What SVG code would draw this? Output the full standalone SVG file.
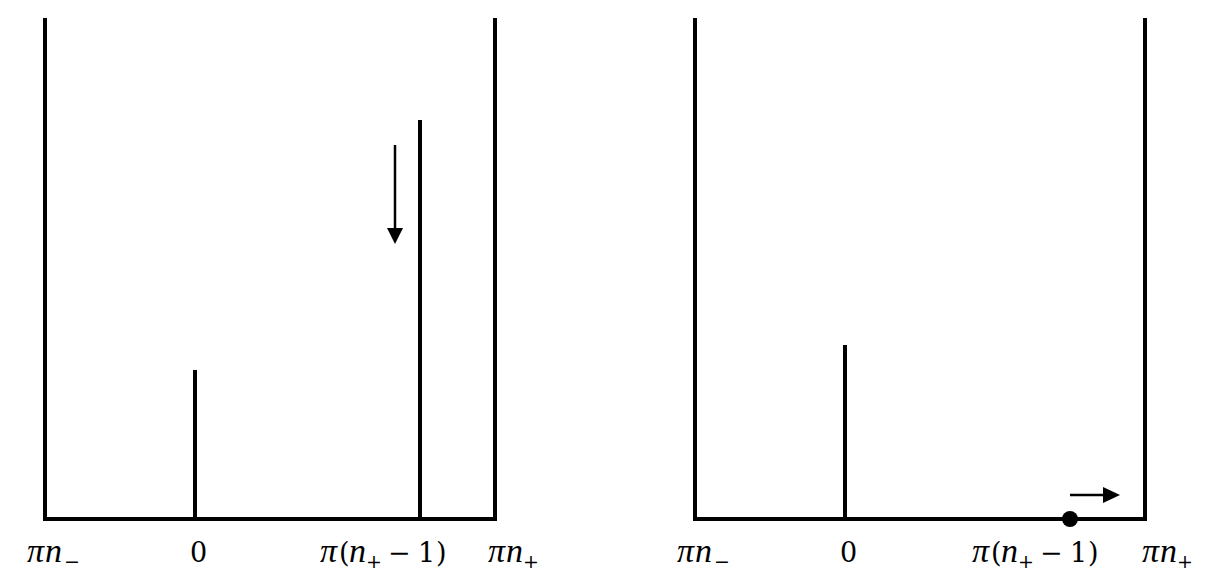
<svg xmlns="http://www.w3.org/2000/svg" width="1225" height="585" viewBox="0 0 1225 585">
<style>
.frame{fill:none;stroke:#000;stroke-width:4;stroke-linecap:square}
.bar{stroke:#000;stroke-width:4}
.shaft{stroke:#000;stroke-width:2.5}
text{font-family:"DejaVu Serif","Liberation Serif",serif;font-size:27px;fill:#000}
.i{font-family:"Liberation Serif","DejaVu Serif",serif;font-style:italic;font-size:34px}
.sub{font-size:19px}
</style>
<rect width="1225" height="585" fill="#fff"/>
<g id="left-panel">
<polyline class="frame" points="45,20 45,519 495,519 495,20"/>
<line class="bar" x1="195" y1="370" x2="195" y2="519"/>
<line class="bar" x1="420" y1="120" x2="420" y2="519"/>
</g>
<g id="right-panel">
<polyline class="frame" points="695,20 695,519 1145,519 1145,20"/>
<line class="bar" x1="845" y1="345" x2="845" y2="519"/>
<circle cx="1070" cy="519" r="8" fill="#000"/>
</g>
<g id="connectors">
<line class="shaft" x1="395" y1="145" x2="395" y2="230"/>
<polygon points="387,228 403,228 395,244" fill="#000"/>
<line class="shaft" x1="1070" y1="495" x2="1105" y2="495"/>
<polygon points="1103,487 1103,503 1120,495" fill="#000"/>
</g>
<g id="labels">
<text y="562"><tspan class="i" x="27">π</tspan><tspan class="i" x="45">n</tspan><tspan class="sub" x="64" dy="6">−</tspan></text>
<text x="198.5" y="562" text-anchor="middle">0</text>
<text y="562"><tspan class="i" x="320">π</tspan><tspan x="339">(</tspan><tspan class="i" x="349">n</tspan><tspan class="sub" x="366" dy="6">+</tspan><tspan x="388" dy="-6">−</tspan><tspan x="418">1</tspan><tspan x="436">)</tspan></text>
<text y="562"><tspan class="i" x="488">π</tspan><tspan class="i" x="506">n</tspan><tspan class="sub" x="523" dy="6">+</tspan></text>
<text y="562"><tspan class="i" x="677">π</tspan><tspan class="i" x="695">n</tspan><tspan class="sub" x="714" dy="6">−</tspan></text>
<text x="848.5" y="562" text-anchor="middle">0</text>
<text y="562"><tspan class="i" x="972">π</tspan><tspan x="991">(</tspan><tspan class="i" x="1001">n</tspan><tspan class="sub" x="1018" dy="6">+</tspan><tspan x="1040" dy="-6">−</tspan><tspan x="1070">1</tspan><tspan x="1088">)</tspan></text>
<text y="562"><tspan class="i" x="1142">π</tspan><tspan class="i" x="1160">n</tspan><tspan class="sub" x="1177" dy="6">+</tspan></text>
</g>
</svg>
